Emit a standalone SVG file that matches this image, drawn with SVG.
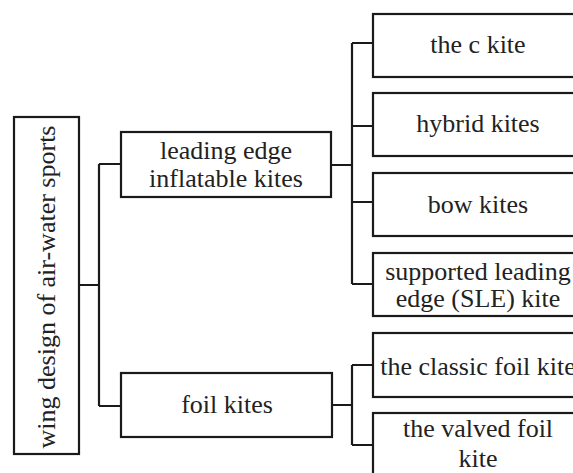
<svg xmlns="http://www.w3.org/2000/svg" width="573" height="473" viewBox="0 0 573 473">
<style>
.box{fill:#fff;stroke:#1a1a1a;stroke-width:2.2}
.ln{fill:none;stroke:#1a1a1a;stroke-width:2.2}
.t{font-family:'Liberation Serif','Times New Roman',serif;font-size:26px;fill:#222;text-anchor:middle}
</style>
<rect width="573" height="473" fill="#fff"/>
<g id="connectors">
<path class="ln" d="M79 285H99M99 164V406M99 164H121M99 406H121"/>
<path class="ln" d="M331 165H352M352 43V284M352 43H373M352 126H373M352 202H373M352 284H373"/>
<path class="ln" d="M332 405H352M352 365V445M352 365H373M352 445H373"/>
</g>
<g id="root">
<rect class="box" x="14" y="117" width="65" height="337"/>
<text class="t" transform="translate(55,287) rotate(-90)">wing design of air-water sports</text>
</g>
<g id="lei">
<rect class="box" x="121" y="132" width="210" height="65"/>
<text class="t" x="226" y="159">leading edge</text>
<text class="t" x="226" y="187">inflatable kites</text>
</g>
<g id="foil">
<rect class="box" x="121" y="373" width="211" height="64"/>
<text class="t" x="227" y="413">foil kites</text>
</g>
<g id="ckite">
<rect class="box" x="373" y="14" width="210" height="63"/>
<text class="t" x="478" y="53">the c kite</text>
</g>
<g id="hybrid">
<rect class="box" x="373" y="93" width="210" height="63"/>
<text class="t" x="478" y="132">hybrid kites</text>
</g>
<g id="bow">
<rect class="box" x="373" y="173" width="210" height="63"/>
<text class="t" x="478" y="213">bow kites</text>
</g>
<g id="sle">
<rect class="box" x="373" y="253" width="210" height="63"/>
<text class="t" x="478" y="280">supported leading</text>
<text class="t" x="478" y="307">edge (SLE) kite</text>
</g>
<g id="classic">
<rect class="box" x="373" y="333" width="210" height="64"/>
<text class="t" x="478" y="375">the classic foil kite</text>
</g>
<g id="valved">
<rect class="box" x="373" y="413" width="210" height="66"/>
<text class="t" x="478" y="437">the valved foil</text>
<text class="t" x="478" y="467">kite</text>
</g>
</svg>
